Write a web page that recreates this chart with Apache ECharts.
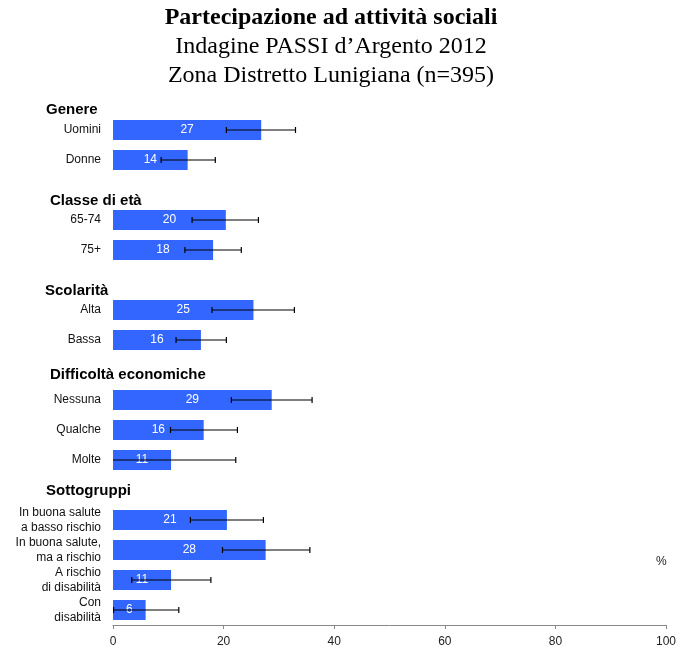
<!DOCTYPE html>
<html>
<head>
<meta charset="utf-8">
<script src="https://cdn.jsdelivr.net/npm/echarts@6/dist/echarts.min.js"></script>
<style>html,body{margin:0;padding:0;background:#fff;}#c{width:685px;height:648px;}</style>
</head>
<body>
<div id="c"></div>
<script>
// Rows (top to bottom); header rows carry no bar
const rowLabels = ['Genere', 'Uomini', 'Donne', 'Classe di età', '65-74', '75+', 'Scolarità', 'Alta', 'Bassa',
  'Difficoltà economiche', 'Nessuna', 'Qualche', 'Molte', 'Sottogruppi',
  'In buona salute\na basso rischio', 'In buona salute,\nma a rischio', 'A rischio\ndi disabilità', 'Con\ndisabilità'];
const isHeader = [1,0,0,1,0,0,1,0,0,1,0,0,0,1,0,0,0,0];
const values   = [null, 26.8, 13.5, null, 20.4, 18.1, null, 25.4, 15.9, null, 28.7, 16.4, 10.5, null, 20.6, 27.6, 10.5, 5.9];
const shown    = [null, 27, 14, null, 20, 18, null, 25, 16, null, 29, 16, 11, null, 21, 28, 11, 6];
const ciLow    = [null, 20.5, 8.7, null, 14.3, 13.0, null, 17.9, 11.4, null, 21.4, 10.4, -1.0, null, 14.0, 19.8, 3.4, 0.1];
const ciHigh   = [null, 33.0, 18.5, null, 26.3, 23.2, null, 32.8, 20.5, null, 36.0, 22.5, 22.2, null, 27.2, 35.6, 17.7, 11.9];
const xTicks   = [0, 20, 40, 60, 80, 100];

const headerStyleKeys = ['h0','h1','h2','h3','h4'];
const sans = '"Liberation Sans", Arial, sans-serif';
const serif = '"Liberation Serif", "Times New Roman", serif';

const errData = [];
rowLabels.forEach((r, i) => { if (!isHeader[i]) errData.push([ciLow[i], ciHigh[i], i]); });

const chart = echarts.init(document.getElementById('c'), null, {renderer: 'canvas'});
let hIdx = -1;
const headerMap = {};
rowLabels.forEach((r, i) => { if (isHeader[i]) { hIdx++; headerMap[i] = headerStyleKeys[hIdx]; } });

chart.setOption({
  animation: false,
  backgroundColor: '#ffffff',
  title: {
    text: 'Partecipazione ad attività sociali',
    subtext: 'Indagine PASSI d\u2019Argento 2012\nZona Distretto Lunigiana (n=395)',
    left: 331, top: 4, textAlign: 'center', padding: 0, itemGap: 0,
    textStyle: {fontFamily: serif, fontSize: 24, fontWeight: 'bold', color: '#000', lineHeight: 28},
    subtextStyle: {fontFamily: serif, fontSize: 24, color: '#000', lineHeight: 29}
  },
  grid: {left: 113, right: 19, top: 85, bottom: 22},
  xAxis: {
    type: 'value', min: 0, max: 100, interval: 20,
    axisLine: {show: true, lineStyle: {color: '#888', width: 1}},
    axisTick: {show: true, length: 4, lineStyle: {color: '#888'}},
    axisLabel: {fontFamily: sans, fontSize: 12, color: '#222', margin: 11},
    splitLine: {show: false}
  },
  yAxis: [{
    type: 'category', data: rowLabels, inverse: true,
    axisLine: {show: false}, axisTick: {show: false},
    axisLabel: {
      interval: 0, margin: 12, align: 'right',
      fontFamily: sans, fontSize: 12, color: '#111', lineHeight: 15,
      formatter: (v, i) => isHeader[i] ? '' : v
    }
  }, {
    type: 'category', data: rowLabels, inverse: true, position: 'left',
    axisLine: {show: false}, axisTick: {show: false},
    axisLabel: {
      interval: 0, margin: 68, align: 'left',
      fontFamily: sans, fontSize: 15, fontWeight: 'bold', color: '#000',
      formatter: (v, i) => isHeader[i] ? '{' + headerMap[i] + '|' + v + '}' : '',
      rich: {
        h0: {fontFamily: sans, fontSize: 15, fontWeight: 'bold', color: '#000', padding: [20, 0, 0, 1]},
        h1: {fontFamily: sans, fontSize: 15, fontWeight: 'bold', color: '#000', padding: [22, 0, 0, 5]},
        h2: {fontFamily: sans, fontSize: 15, fontWeight: 'bold', color: '#000', padding: [22, 0, 0, 0]},
        h3: {fontFamily: sans, fontSize: 15, fontWeight: 'bold', color: '#000', padding: [10, 0, 0, 5]},
        h4: {fontFamily: sans, fontSize: 15, fontWeight: 'bold', color: '#000', padding: [2, 0, 0, 1]}
      }
    }
  }],
  graphic: [{
    type: 'text', left: 656, top: 556,
    style: {text: '%', font: '12px ' + sans, fill: '#222'}
  }],
  series: [{
    type: 'bar', yAxisIndex: 0, barWidth: 20,
    data: values.map(v => v == null ? '-' : v),
    itemStyle: {color: '#3366FF'},
    label: {
      show: true, position: 'inside', color: '#fff', fontFamily: sans, fontSize: 12,
      formatter: p => shown[p.dataIndex] == null ? '' : String(shown[p.dataIndex])
    }
  }, {
    type: 'custom', yAxisIndex: 0, clip: true, z: 5,
    data: errData,
    encode: {x: [0, 1], y: 2},
    renderItem: (params, api) => {
      const idx = api.value(2);
      const lo = api.coord([api.value(0), idx]);
      const hi = api.coord([api.value(1), idx]);
      const h = 3;
      const st = {stroke: '#000', lineWidth: 1.2};
      return {type: 'group', children: [
        {type: 'line', shape: {x1: lo[0], y1: lo[1], x2: hi[0], y2: hi[1]}, style: st},
        {type: 'line', shape: {x1: lo[0], y1: lo[1] - h, x2: lo[0], y2: lo[1] + h}, style: st},
        {type: 'line', shape: {x1: hi[0], y1: hi[1] - h, x2: hi[0], y2: hi[1] + h}, style: st}
      ]};
    }
  }]
});
</script>
</body>
</html>
